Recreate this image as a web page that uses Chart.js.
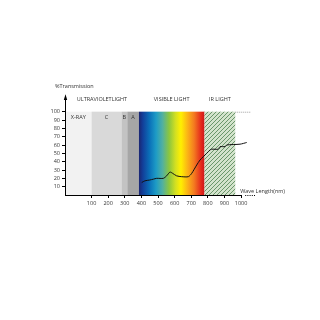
<!DOCTYPE html>
<html>
<head>
<meta charset="utf-8">
<script src="https://cdn.jsdelivr.net/npm/chart.js@4"></script>
<style>
  html, body { margin: 0; padding: 0; background: #fff; }
  #wrap { width: 320px; height: 320px; }
</style>
</head>
<body>
<div id="wrap"><canvas id="spectrum-chart" width="320" height="320"></canvas></div>
<script>
// measured transmission curve
var waveLengths = [402, 421, 450, 472, 492, 532, 552, 572, 588, 612, 642, 683, 703, 733, 753, 773, 793, 813, 823, 863, 873, 904, 913, 994, 1034];
var transmission = [15, 17, 18, 19, 20, 20, 23, 27.5, 26, 23, 22, 22, 26, 36, 42, 46, 50, 54, 55, 55, 58, 58, 60, 61, 63];

// spectral bands (nm)
var bandNames = ['X-RAY', 'C', 'B', 'A', 'VISIBLE', 'IR'];
var bandStart = [-60, 100, 280, 315, 385, 780];
var bandEnd = [100, 280, 315, 385, 780, 965];

// group captions above the bands
var groupNames = ['ULTRAVIOLETLIGHT', 'VISIBLE LIGHT', 'IR LIGHT'];
var groupFrom = [-60, 385, 780];
var groupTo = [385, 780, 965];

var xTicks = [100, 200, 300, 400, 500, 600, 700, 800, 900, 1000];
var yTicks = [10, 20, 30, 40, 50, 60, 70, 80, 90, 100];

var fontFamily = '"Open Sans", "Liberation Sans", sans-serif';
var textColor = '#333';

function hatchPattern(ctx) {
    var c = document.createElement('canvas');
    c.width = 4; c.height = 4;
    var p = c.getContext('2d');
    p.fillStyle = '#d3e3cc';
    p.fillRect(0, 0, 4, 4);
    p.strokeStyle = '#6a966a';
    p.lineWidth = 1;
    p.beginPath();
    p.moveTo(0, 4); p.lineTo(4, 0);
    p.moveTo(-1, 1); p.lineTo(1, -1);
    p.moveTo(3, 5); p.lineTo(5, 3);
    p.stroke();
    return ctx.createPattern(c, 'repeat');
}

var bandsPlugin = {
    id: 'bands',
    beforeDatasetsDraw: function (chart) {
        var ctx = chart.ctx, x = chart.scales.x, y = chart.scales.y;
        var top = y.getPixelForValue(100), bottom = y.getPixelForValue(0);
        var greys = ['#f2f2f2', '#d9d9d9', '#c3c3c3', '#a6a6a6'];
        ctx.save();
        for (var i = 0; i < bandNames.length; i++) {
            var x0 = x.getPixelForValue(bandStart[i]);
            var x1 = x.getPixelForValue(bandEnd[i]);
            if (bandNames[i] === 'VISIBLE') {
                var g = ctx.createLinearGradient(x0, 0, x1, 0);
                g.addColorStop(0, '#1b2570');
                g.addColorStop(0.06, '#123f9a');
                g.addColorStop(0.16, '#0a6fb8');
                g.addColorStop(0.26, '#1d9bc6');
                g.addColorStop(0.36, '#52b0a0');
                g.addColorStop(0.46, '#8cc63e');
                g.addColorStop(0.56, '#d4e021');
                g.addColorStop(0.64, '#fff000');
                g.addColorStop(0.74, '#fbb416');
                g.addColorStop(0.84, '#f47b20');
                g.addColorStop(0.95, '#e4271c');
                g.addColorStop(1, '#cc1818');
                ctx.fillStyle = g;
            } else if (bandNames[i] === 'IR') {
                ctx.fillStyle = hatchPattern(ctx);
            } else {
                ctx.fillStyle = greys[i];
            }
            ctx.fillRect(x0, top, x1 - x0, bottom - top);
            if (i < 4) {
                ctx.fillStyle = textColor;
                ctx.font = '5.5px ' + fontFamily;
                ctx.textAlign = 'center';
                ctx.textBaseline = 'middle';
                ctx.fillText(bandNames[i], (x0 + x1) / 2, top + 6);
            }
        }
        // group captions
        ctx.font = '5.5px ' + fontFamily;
        ctx.fillStyle = textColor;
        ctx.textAlign = 'center';
        ctx.textBaseline = 'middle';
        for (var j = 0; j < groupNames.length; j++) {
            var cx = (x.getPixelForValue(groupFrom[j]) + x.getPixelForValue(groupTo[j])) / 2;
            ctx.fillText(groupNames[j], cx, top - 12);
        }
        // dotted continuation of the 100% line
        ctx.strokeStyle = '#888';
        ctx.lineWidth = 0.8;
        ctx.setLineDash([1, 1]);
        ctx.beginPath();
        ctx.moveTo(x.getPixelForValue(965), top + 0.5);
        ctx.lineTo(x.getPixelForValue(1060), top + 0.5);
        ctx.stroke();
        ctx.restore();
    },
    afterDraw: function (chart) {
        var ctx = chart.ctx, x = chart.scales.x, y = chart.scales.y;
        var left = x.getPixelForValue(-60), bottom = y.getPixelForValue(0);
        ctx.save();
        ctx.strokeStyle = '#000';
        ctx.lineWidth = 1;
        // y axis with arrow
        ctx.beginPath();
        ctx.moveTo(left + 0.5, bottom);
        ctx.lineTo(left + 0.5, y.getPixelForValue(119));
        ctx.stroke();
        ctx.fillStyle = '#000';
        ctx.beginPath();
        ctx.moveTo(left + 0.5, y.getPixelForValue(121));
        ctx.lineTo(left - 1.2, y.getPixelForValue(114));
        ctx.lineTo(left + 2.2, y.getPixelForValue(114));
        ctx.closePath();
        ctx.fill();
        // x axis, solid then dotted
        ctx.beginPath();
        ctx.moveTo(left, bottom + 0.5);
        ctx.lineTo(x.getPixelForValue(1005), bottom + 0.5);
        ctx.stroke();
        ctx.setLineDash([1, 1.2]);
        ctx.beginPath();
        ctx.moveTo(x.getPixelForValue(1025), bottom + 0.5);
        ctx.lineTo(x.getPixelForValue(1085), bottom + 0.5);
        ctx.stroke();
        ctx.setLineDash([]);
        // axis titles
        ctx.fillStyle = textColor;
        ctx.font = '5.5px ' + fontFamily;
        ctx.textBaseline = 'middle';
        ctx.textAlign = 'left';
        ctx.fillText('%Transmission', left - 10, y.getPixelForValue(130));
        ctx.fillText('Wave Length(nm)', x.getPixelForValue(995), y.getPixelForValue(4.5));
        ctx.restore();
    }
};

var handleChartJs = function () {
    var ctx = document.getElementById('spectrum-chart').getContext('2d');
    var points = waveLengths.map(function (w, i) { return { x: w, y: transmission[i] }; });
    window.spectrumChart = new Chart(ctx, {
        type: 'line',
        data: {
            datasets: [{
                data: points,
                borderColor: '#111',
                borderWidth: 1,
                pointRadius: 0,
                tension: 0.25,
                fill: false
            }]
        },
        options: {
            responsive: false,
            animation: false,
            layout: { padding: { left: 37, right: 64, top: 95, bottom: 107 } },
            plugins: { legend: { display: false }, tooltip: { enabled: false } },
            scales: {
                x: {
                    type: 'linear',
                    min: -60,
                    max: 1090,
                    afterBuildTicks: function (s) { s.ticks = xTicks.map(function (v) { return { value: v }; }); },
                    afterFit: function (s) { s.height = 18; },
                    grid: { display: true, drawOnChartArea: false, drawTicks: true, tickLength: 3, color: '#000' },
                    border: { display: false },
                    ticks: {
                        color: textColor, font: { size: 5.5, family: fontFamily }, padding: 2, maxRotation: 0, autoSkip: false,
                        callback: function (v) { return String(v); }
                    }
                },
                y: {
                    min: 0,
                    max: 120,
                    afterBuildTicks: function (s) { s.ticks = yTicks.map(function (v) { return { value: v }; }); },
                    afterFit: function (s) { s.width = 28; },
                    grid: { display: true, drawOnChartArea: false, drawTicks: true, tickLength: 3, color: '#000' },
                    border: { display: false },
                    ticks: {
                        color: textColor, font: { size: 5.5, family: fontFamily }, padding: 2, autoSkip: false,
                        callback: function (v) { return String(v); }
                    }
                }
            }
        },
        plugins: [bandsPlugin]
    });
};

handleChartJs();
</script>
</body>
</html>
